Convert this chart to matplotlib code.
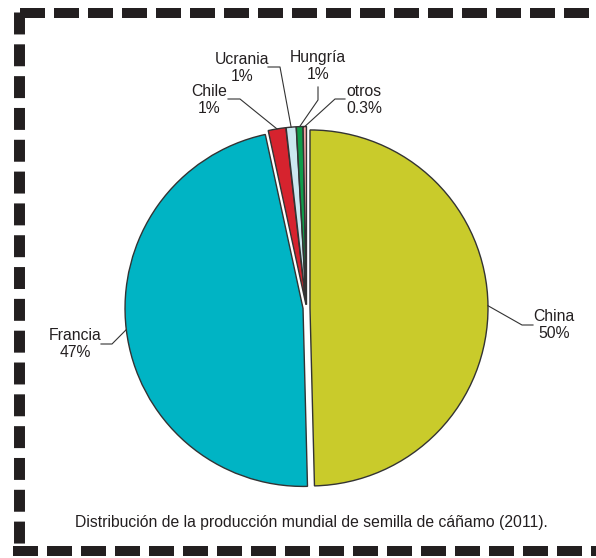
import numpy as np
import matplotlib.pyplot as plt

# Producción mundial de semilla de cáñamo (2011)
paises = ["China", "Francia", "Chile", "Ucrania", "Hungría", "otros"]
valores = [49.6, 47.0, 1.6, 0.9, 0.6, 0.3]
etiquetas = ["50%", "47%", "1%", "1%", "1%", "0.3%"]
colores = ["#C9CB2B", "#00B4C4", "#D6232E", "#CBE8F0", "#0F9D4A", "#F4A3A5"]
titulo = "Distribución de la producción mundial de semilla de cáñamo (2011)."

W, H = 596, 558
TXT = "#231F20"
plt.rcParams['font.family'] = ['Liberation Sans', 'DejaVu Sans']

fig = plt.figure(figsize=(W / 100, H / 100), dpi=100)
ax = fig.add_axes([0, 0, 1, 1])

# pixel layout (y measured from top)
cx, cy, r = 306.5, 308, 178


def py(y):
    return H - y


# explode is in data units here (= pixels)
wedges, _ = ax.pie(valores, colors=colores, startangle=90, counterclock=False,
                   center=(cx, py(cy)), radius=r, explode=[3.5] * len(valores),
                   wedgeprops=dict(edgecolor="#333333", linewidth=1.0))
ax.set_xlim(0, W)
ax.set_ylim(0, H)
ax.set_aspect('auto')
ax.axis('off')

# label block centre, knee of leader line, end of leader line next to text
label_pos = [(554, 325), (75, 344), (209, 100), (242, 68), (318, 66), (364, 100)]
knees = [(522, 325), (112, 344), (240, 99), (280, 67), (318, 100), (335, 99)]
ends = [(533, 325), (101, 344), (228, 99), (268, 67), (318, 87), (345, 99)]

for w, name, pct, (lx, ly), (kx, ky), (ex, ey) in zip(
        wedges, paises, etiquetas, label_pos, knees, ends):
    mid = np.deg2rad((w.theta1 + w.theta2) / 2)
    wx = w.center[0] + w.r * np.cos(mid)
    wy = w.center[1] + w.r * np.sin(mid)
    ax.plot([wx, kx, ex], [wy, py(ky), py(ey)], color="#333333", lw=0.8)
    ax.text(lx, py(ly), f"{name}\n{pct}", ha="center", va="center",
            fontsize=11.3, color=TXT, linespacing=1.1)

ax.text(311, py(523), titulo, ha="center", va="center", fontsize=11.3, color=TXT)

# dashed frame (top, left, bottom)
ax.plot([20, W], [py(12.5), py(12.5)], color=TXT, lw=7.2,
        dash_capstyle='butt', linestyle=(0, (2.5, 0.9)), clip_on=False)
ax.plot([18.5, 18.5], [py(12), py(544)], color=TXT, lw=7.9, dash_capstyle='butt',
        linestyle=(0, (2.0, 0.9)), clip_on=False)
ax.plot([13, W], [py(551), py(551)], color=TXT, lw=7.2, dash_capstyle='butt',
        linestyle=(0, (2.5, 0.9)), clip_on=False)

fig.savefig("out.png", dpi=100)
